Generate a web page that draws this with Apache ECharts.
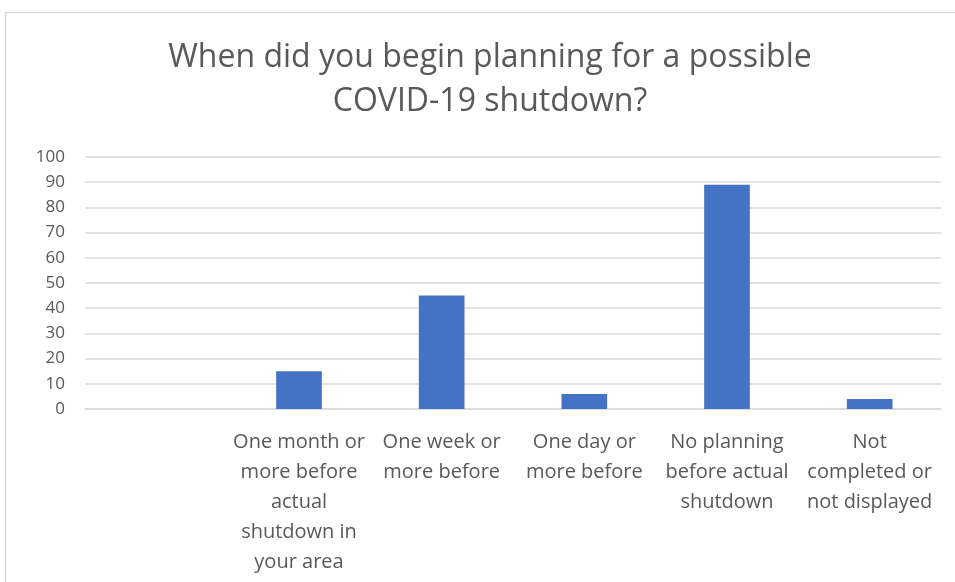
<!DOCTYPE html>
<html>
<head>
<meta charset="utf-8">
<style>html,body{margin:0;padding:0;background:#fff;}#c{width:955px;height:582px;}</style>
<script src="https://cdn.jsdelivr.net/npm/echarts@6/dist/echarts.min.js"></script>
</head>
<body>
<div id="c"></div>
<script>
var titleLines = ['When did you begin planning for a possible', 'COVID-19 shutdown?'];
var categories = ['', 'One month or\nmore before\nactual\nshutdown in\nyour area', 'One week or\nmore before', 'One day or\nmore before', 'No planning\nbefore actual\nshutdown', 'Not\ncompleted or\nnot displayed'];
var values = [null, 15, 45, 6, 89, 4];
var yTicks = {min: 0, max: 100, interval: 10};

var chart = echarts.init(document.getElementById('c'));
chart.setOption({
  animation: false,
  graphic: [
    {type: 'rect', shape: {x: 5.5, y: 12.5, width: 960, height: 600}, style: {fill: 'none', stroke: '#d9d9d9', lineWidth: 1.5}, silent: true},
    {type: 'text', x: 490, y: 58, style: {text: titleLines[0], font: '32px "Open Sans"', fill: '#595959', align: 'center', verticalAlign: 'middle'}},
    {type: 'text', x: 490, y: 102, style: {text: titleLines[1], font: '32px "Open Sans"', fill: '#595959', align: 'center', verticalAlign: 'middle'}}
  ],
  grid: {left: 85, right: 14, top: 157, bottom: 173, containLabel: false},
  xAxis: {
    type: 'category',
    data: categories,
    axisLine: {show: true, lineStyle: {color: '#d9d9d9', width: 1.5}},
    axisTick: {show: false},
    axisLabel: {interval: 0, color: '#595959', fontSize: 20, fontFamily: 'Open Sans', lineHeight: 30, margin: 18}
  },
  yAxis: {
    type: 'value',
    min: yTicks.min, max: yTicks.max, interval: yTicks.interval,
    axisLine: {show: false},
    axisTick: {show: false},
    splitLine: {lineStyle: {color: '#d9d9d9', width: 1.5}},
    axisLabel: {color: '#595959', fontSize: 17, fontFamily: 'Open Sans', margin: 20}
  },
  series: [{
    type: 'bar',
    data: values,
    barWidth: '32%',
    itemStyle: {color: '#4472C4'}
  }]
});
</script>
</body>
</html>
